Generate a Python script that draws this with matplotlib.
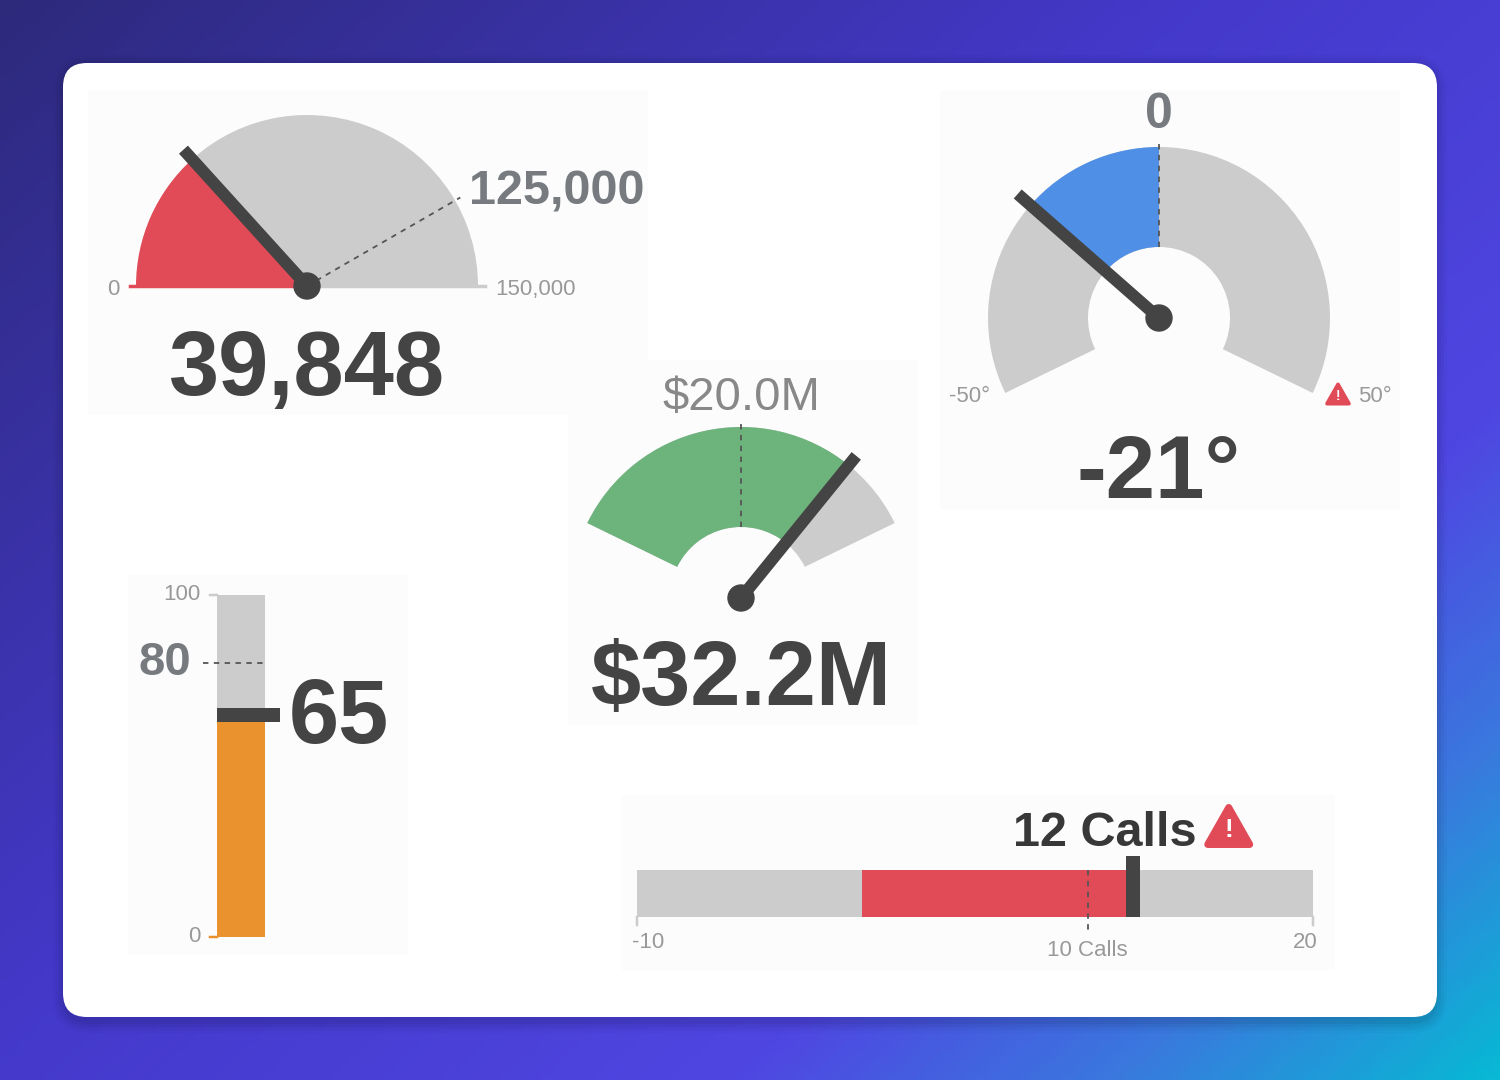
import numpy as np
import matplotlib
matplotlib.use("Agg")
import matplotlib.pyplot as plt
from matplotlib.patches import Wedge, Circle, FancyBboxPatch, Polygon, Rectangle
from matplotlib.colors import LinearSegmentedColormap

plt.rcParams['font.family'] = ['Liberation Sans', 'DejaVu Sans']

# ---------------- data ----------------
rev_range = [0, 150000]
rev_value = 39848
rev_target = 125000
rev_labels = ["0", "150,000", "125,000", "39,848"]

temp_range = [-50, 50]
temp_value = -21
temp_target = 0
temp_labels = ["-50°", "50°", "0", "-21°"]

sales_range = [0.0, 40.0]        # $M
sales_value = 32.2
sales_target = 20.0
sales_labels = ["$20.0M", "$32.2M"]

score_range = [0, 100]
score_value = 65
score_target = 80
score_labels = ["0", "100", "80", "65"]

calls_range = [-10, 20]
calls_start = 0
calls_value = 12
calls_target = 10
calls_labels = ["-10", "20", "10 Calls", "12 Calls"]

# ---------------- styles ----------------
DARK = "#444444"
GRAY = "#cccccc"
RED = "#e04b57"
BLUE = "#4f8fe6"
GREEN = "#6db37c"
ORANGE = "#ea932e"
LBL = "#777b80"
SMALL = "#999999"
PX = 0.72  # points per pixel at dpi 100

W, H = 1500, 1080
fig = plt.figure(figsize=(15, 10.8), dpi=100)
bg = fig.add_axes([0, 0, 1, 1])
bg.set_xlim(0, W)
bg.set_ylim(0, H)
bg.axis('off')

def Y(y):
    return H - y

# background gradient
cmap = LinearSegmentedColormap.from_list(
    "bgc", [(0.0, "#2d2a7c"), (0.42, "#4338c8"), (0.72, "#4f46e2"),
            (0.86, "#3a78de"), (1.0, "#08b8d4")])
gx = np.linspace(0, 1, 300)
gy = np.linspace(0, 1, 216)
GX, GY = np.meshgrid(gx, gy)
T = 0.55 * GX + 0.45 * GY
bg.imshow(T, cmap=cmap, extent=[0, W, 0, H], origin='upper', aspect='auto', zorder=0)

# card shadow + card
for i, a in enumerate([0.05, 0.04, 0.03, 0.02]):
    s = 3 + i * 3
    bg.add_patch(FancyBboxPatch((63 - s + 2, Y(1017) - s - 4), 1374 + 2 * s - 4, 954 + 2 * s,
                                boxstyle="round,pad=0,rounding_size=%d" % (24 + s),
                                fc="black", ec="none", alpha=a, zorder=1))
bg.add_patch(FancyBboxPatch((63, Y(1017)), 1374, 954,
                            boxstyle="round,pad=0,rounding_size=24",
                            fc="white", ec="none", zorder=2))

# faint panel backgrounds
for (x0, y0, x1, y1) in [(88, 90, 648, 415), (940, 90, 1400, 510), (568, 360, 918, 725),
                         (128, 575, 408, 955), (622, 795, 1335, 970)]:
    bg.add_patch(Rectangle((x0, Y(y1)), x1 - x0, y1 - y0, fc="#fcfcfc", ec="none", zorder=2.5))


def ang(v, rng, a0, a1):
    return a0 + (a1 - a0) * (v - rng[0]) / (rng[1] - rng[0])


def ray(cx, cy, a, r):
    t = np.deg2rad(a)
    return cx + r * np.cos(t), cy + r * np.sin(t)


def needle(cx, cy, a, length):
    x, y = ray(cx, cy, a, length)
    bg.plot([cx, x], [cy, y], color=DARK, lw=12 * PX, solid_capstyle='butt', zorder=6)
    bg.add_patch(Circle((cx, cy), 13, color=DARK, zorder=7))


def dotted(cx, cy, a, r0, r1):
    x0, y0 = ray(cx, cy, a, r0)
    x1, y1 = ray(cx, cy, a, r1)
    bg.plot([x0, x1], [y0, y1], color="#555555", lw=1.3, ls=(0, (3, 3)), zorder=5)


def warning(x, y, w):
    h = w * 0.88
    pts = [(x - w / 2, y - h / 2), (x + w / 2, y - h / 2), (x, y + h / 2)]
    bg.add_patch(Polygon(pts, closed=True, fc=RED, ec=RED, lw=w * 0.12, joinstyle='round', zorder=8))
    bg.text(x, y - h * 0.1, "!", color="white", fontsize=w * 0.62 * PX, fontweight='bold',
            ha='center', va='center', zorder=9)


# ---------------- gauge 1: revenue (semicircle) ----------------
cx, cy, R = 307, Y(286), 171
a_val = ang(rev_value, rev_range, 180, 0)
a_tgt = ang(rev_target, rev_range, 180, 0)
bg.add_patch(Wedge((cx, cy), R, 0, a_val, fc=GRAY, ec="none", zorder=4))
bg.add_patch(Wedge((cx, cy), R, a_val, 180, fc=RED, ec="none", zorder=4))
bg.plot([cx - R - 6, cx], [cy, cy], color=RED, lw=2.5, zorder=4)
bg.plot([cx, cx + R + 7], [cy, cy], color=GRAY, lw=2.5, zorder=4)
dotted(cx, cy, a_tgt, 0, R + 6)
needle(cx, cy, a_val, 184)
bg.text(cx - R - 17, Y(295), rev_labels[0], fontsize=16, color=SMALL, ha='right', va='baseline', zorder=5)
bg.text(cx + R + 17, Y(295), rev_labels[1], fontsize=16, color=SMALL, ha='left', va='baseline', zorder=5)
tx, ty = ray(cx, cy, a_tgt, R + 6)
bg.text(tx + 9, Y(204), rev_labels[2], fontsize=35, fontweight='bold', color=LBL,
        ha='left', va='baseline', zorder=5)
bg.text(cx, Y(395), rev_labels[3], fontsize=65, fontweight='bold', color=DARK,
        ha='center', va='baseline', zorder=5)

# ---------------- gauge 2: temperature (ring) ----------------
cx, cy, R, r = 1159, Y(318), 171, 71
A0, A1 = 206, -26
a_val = ang(temp_value, temp_range, A0, A1)
a_tgt = ang(temp_target, temp_range, A0, A1)
bg.add_patch(Wedge((cx, cy), R, A1, A0, width=R - r, fc=GRAY, ec="none", zorder=4))
bg.add_patch(Wedge((cx, cy), R, min(a_val, a_tgt), max(a_val, a_tgt), width=R - r,
                   fc=BLUE, ec="none", zorder=4))
dotted(cx, cy, a_tgt, r, R + 5)
needle(cx, cy, a_val, 188)
bg.text(cx, Y(128), temp_labels[2], fontsize=36, fontweight='bold', color=LBL,
        ha='center', va='baseline', zorder=5)
bg.text(990, Y(402), temp_labels[0], fontsize=16, color=SMALL, ha='right', va='baseline', zorder=5)
bg.text(1358, Y(402), temp_labels[1], fontsize=16, color=SMALL, ha='left', va='baseline', zorder=5)
warning(1338, Y(394), 22)
bg.text(cx, Y(498), temp_labels[3], fontsize=64, fontweight='bold', color=DARK,
        ha='center', va='baseline', zorder=5)

# ---------------- gauge 3: sales (arc) ----------------
cx, cy, R, r = 741, Y(598), 171, 71
A0, A1 = 154, 26
a_val = ang(sales_value, sales_range, A0, A1)
a_tgt = ang(sales_target, sales_range, A0, A1)
bg.add_patch(Wedge((cx, cy), R, A1, A0, width=R - r, fc=GRAY, ec="none", zorder=4))
bg.add_patch(Wedge((cx, cy), R, a_val, A0, width=R - r, fc=GREEN, ec="none", zorder=4))
dotted(cx, cy, a_tgt, r, R + 4)
needle(cx, cy, a_val, 183)
bg.text(cx, Y(410), sales_labels[0], fontsize=34, color="#888888", ha='center', va='baseline', zorder=5)
bg.text(cx, Y(705), sales_labels[1], fontsize=65, fontweight='bold', color=DARK,
        ha='center', va='baseline', zorder=5)

# ---------------- gauge 4: vertical bullet ----------------
ax4 = fig.add_axes([217 / W, (H - 937) / H, 48 / W, 342 / H])
ax4.set_xlim(0, 1)
ax4.set_ylim(score_range)
ax4.axis('off')
ax4.bar(0.5, score_range[1] - score_range[0], bottom=score_range[0], width=1, color=GRAY, zorder=1)
ax4.bar(0.5, score_value - score_range[0], bottom=score_range[0], width=1, color=ORANGE, zorder=2)
ax4.plot([-0.29, 1], [score_target, score_target], color="#555555", lw=1.3, ls=(0, (3, 3)),
         clip_on=False, zorder=3)
ax4.plot([0, 1.31], [score_value, score_value], color=DARK, lw=14 * PX, solid_capstyle='butt',
         clip_on=False, zorder=4)
# ticks
for v, col, lab in [(score_range[0], ORANGE, score_labels[0]), (score_range[1], GRAY, score_labels[1])]:
    ax4.plot([-0.15, 0], [v, v], color=col, lw=2.5 * PX, clip_on=False, zorder=3)
    ax4.annotate(lab, xy=(-0.15, v), xytext=(-9 * PX, 0), textcoords='offset points',
                 fontsize=16, color=SMALL, ha='right', va='center', annotation_clip=False)
ax4.annotate(score_labels[2], xy=(-0.29, score_target), xytext=(-12 * PX, 0), textcoords='offset points',
             fontsize=34, fontweight='bold', color=LBL, ha='right', va='center', annotation_clip=False)
ax4.annotate(score_labels[3], xy=(1.31, score_value), xytext=(9 * PX, -28 * PX), textcoords='offset points',
             fontsize=65, fontweight='bold', color=DARK, ha='left', va='baseline', annotation_clip=False)

# ---------------- gauge 5: horizontal bullet ----------------
ax5 = fig.add_axes([637 / W, (H - 917) / H, 676 / W, 47 / H])
ax5.set_xlim(calls_range)
ax5.set_ylim(0, 1)
ax5.axis('off')
ax5.barh(0.5, calls_range[1] - calls_range[0], left=calls_range[0], height=1, color=GRAY, zorder=1)
ax5.barh(0.5, calls_value - calls_start, left=calls_start, height=1, color=RED, zorder=2)
ax5.plot([calls_target, calls_target], [1, -0.28], color="#555555", lw=1.3, ls=(0, (3, 3)),
         clip_on=False, zorder=3)
ax5.plot([calls_value, calls_value], [0, 1.30], color=DARK, lw=14 * PX, solid_capstyle='butt',
         clip_on=False, zorder=4)
for v, lab, ha, dx in [(calls_range[0], calls_labels[0], 'left', -5), (calls_range[1], calls_labels[1], 'right', 5)]:
    ax5.plot([v, v], [0, -0.17], color=GRAY, lw=2.5 * PX, clip_on=False, zorder=3)
    ax5.annotate(lab, xy=(v, 0), xytext=(dx * PX, -26 * PX), textcoords='offset points',
                 fontsize=16, color=SMALL, ha=ha, va='center', annotation_clip=False)
ax5.annotate(calls_labels[2], xy=(calls_target, 0), xytext=(0, -33 * PX), textcoords='offset points',
             fontsize=16, color=SMALL, ha='center', va='center', annotation_clip=False)
ax5.annotate(calls_labels[3], xy=(calls_value, 1), xytext=(-28 * PX, 24 * PX), textcoords='offset points',
             fontsize=35, fontweight='bold', color="#383838", ha='center', va='baseline',
             annotation_clip=False)
fig.canvas.draw()
mx, my = ax5.transData.transform((calls_value, 1))
warning(mx + 96, my + 44, 42)

fig.savefig("out.png", dpi=100)
